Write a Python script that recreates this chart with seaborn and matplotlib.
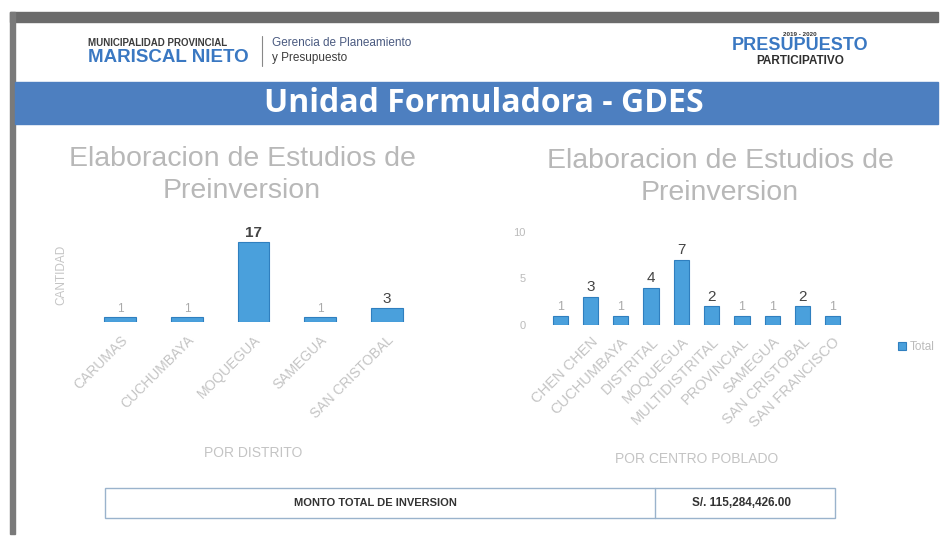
import numpy as np
import pandas as pd
import matplotlib
matplotlib.use("Agg")
import matplotlib.pyplot as plt
import seaborn as sns
from matplotlib.patches import Rectangle

# data
distritos = ['CARUMAS', 'CUCHUMBAYA', 'MOQUEGUA', 'SAMEGUA', 'SAN CRISTOBAL']
cant_distrito = [1, 1, 17, 1, 3]

centros = ['', 'CHEN CHEN', 'CUCHUMBAYA', 'DISTRITAL', 'MOQUEGUA', 'MULTIDISTRITAL',
           'PROVINCIAL', 'SAMEGUA', 'SAN CRISTOBAL', 'SAN FRANCISCO']
cant_centro = [1, 3, 1, 4, 7, 2, 1, 1, 2, 1]

monto_label = 'MONTO TOTAL DE INVERSION'
monto_valor = 'S/. 115,284,426.00'

sns.set_theme(style='white')
plt.rcParams['font.family'] = ['Liberation Sans', 'DejaVu Sans']

W, H = 942, 542
fig = plt.figure(figsize=(W / 100, H / 100), dpi=100)
fig.patch.set_facecolor('white')

def fx(x):
    return x / W

def fy(y):
    return 1 - y / H

# slide frame, header and banner
bg = fig.add_axes([0, 0, 1, 1])
bg.set_xlim(0, W)
bg.set_ylim(H, 0)
bg.axis('off')
bg.add_patch(Rectangle((10, 12), 928, 10, color='#6b6b6b'))
bg.add_patch(Rectangle((10, 12), 5, 522, color='#7a7a7a'))
bg.add_patch(Rectangle((15, 82), 923, 42, color='#4d7fc0'))
bg.text(484, 103, 'Unidad Formuladora - GDES', color='white', fontsize=23,
        fontweight='bold', ha='center', va='center', family=['Open Sans', 'DejaVu Sans'])

bg.text(88, 43, 'MUNICIPALIDAD PROVINCIAL', color='#3c3c3c', fontsize=7,
        fontweight='bold', va='center')
bg.text(88, 57, 'MARISCAL NIETO', color='#3a78c2', fontsize=13.5,
        fontweight='bold', va='center')
bg.plot([262, 262], [36, 66], color='#888888', lw=0.8)
bg.text(272, 43, 'Gerencia de Planeamiento', color='#4a5a80', fontsize=8.5, va='center')
bg.text(272, 58, 'y Presupuesto', color='#3c3c3c', fontsize=8.5, va='center')
bg.text(800, 34, '2019 - 2020', color='#333333', fontsize=4.5, fontweight='bold',
        ha='center', va='center')
bg.text(800, 46, 'PRESUPUESTO', color='#3a78c2', fontsize=13, fontweight='bold',
        ha='center', va='center')
bg.text(800, 61, 'PARTICIPATIVO', color='#2f2f2f', fontsize=8.5, fontweight='bold',
        ha='center', va='center')

# chart titles
tcol = '#b8b8b8'
bg.text(242, 175, 'Elaboracion de Estudios de\nPreinversion', color=tcol, fontsize=20.5,
        ha='center', va='center', linespacing=1.3)
bg.text(720, 177, 'Elaboracion de Estudios de\nPreinversion', color=tcol, fontsize=20.5,
        ha='center', va='center', linespacing=1.3)

bar_col = '#4aa0dc'
lbl_col = '#c4c4c4'

# left chart
ax1 = fig.add_axes([fx(87), fy(322), fx(333), 0.173])
df1 = pd.DataFrame({'distrito': distritos, 'cantidad': cant_distrito})
sns.barplot(data=df1, x='distrito', y='cantidad', color=bar_col, width=0.48,
            edgecolor='#2f7fbf', linewidth=0.8, saturation=1, ax=ax1)
ax1.set_ylim(0, 20)
for i, v in enumerate(cant_distrito):
    big = v > 2
    ax1.text(i, v + 0.5, str(v), ha='center', va='bottom',
             fontsize=11 if big else 8.5, color='#444444' if big else '#aaaaaa',
             fontweight='bold' if v > 10 else 'normal')
ax1.set_yticks([])
ax1.set_ylabel('CANTIDAD', color=lbl_col, fontsize=8.5, labelpad=14)
ax1.set_xlabel('POR DISTRITO', color=lbl_col, fontsize=10, labelpad=18)
ax1.tick_params(axis='x', length=0, pad=8)
plt.setp(ax1.get_xticklabels(), rotation=45, ha='right', rotation_mode='anchor',
         color=lbl_col, fontsize=10)
sns.despine(ax=ax1, left=True, bottom=True)

# right chart
ax2 = fig.add_axes([fx(545), fy(325), fx(303), 0.172])
df2 = pd.DataFrame({'centro': centros, 'cantidad': cant_centro, 'serie': 'Total'})
sns.barplot(data=df2, x='centro', y='cantidad', hue='serie', palette=[bar_col],
            width=0.5, edgecolor='#2f7fbf', linewidth=0.8, saturation=1, ax=ax2)
ax2.set_ylim(0, 10)
for i, v in enumerate(cant_centro):
    big = v > 1
    ax2.text(i, v + 0.3, str(v), ha='center', va='bottom',
             fontsize=11 if big else 9, color='#444444' if big else '#aaaaaa')
ax2.set_yticks([0, 5, 10])
ax2.tick_params(axis='y', length=0, labelsize=8, labelcolor='#bbbbbb', pad=14)
ax2.set_ylabel('')
ax2.set_xlabel('POR CENTRO POBLADO', color=lbl_col, fontsize=10, labelpad=16)
ax2.tick_params(axis='x', length=0, pad=7)
plt.setp(ax2.get_xticklabels(), rotation=45, ha='right', rotation_mode='anchor',
         color=lbl_col, fontsize=10.5)
sns.despine(ax=ax2, left=True, bottom=True)
leg = ax2.legend(loc='center left', bbox_to_anchor=(1.13, -0.24), frameon=False,
                 fontsize=8.5, handlelength=0.7, handleheight=0.7, handletextpad=0.3)
for t in leg.get_texts():
    t.set_color('#bbbbbb')

# investment total table
bg.add_patch(Rectangle((105, 488), 730, 30, fill=False, edgecolor='#9ab3cc', lw=1))
bg.plot([655, 655], [488, 518], color='#9ab3cc', lw=1)
bg.text(375, 503, monto_label, color='#333333', fontsize=8, fontweight='bold',
        ha='center', va='center')
bg.text(742, 503, monto_valor, color='#333333', fontsize=8.5, fontweight='bold',
        ha='center', va='center')

fig.savefig('out.png', dpi=100)
